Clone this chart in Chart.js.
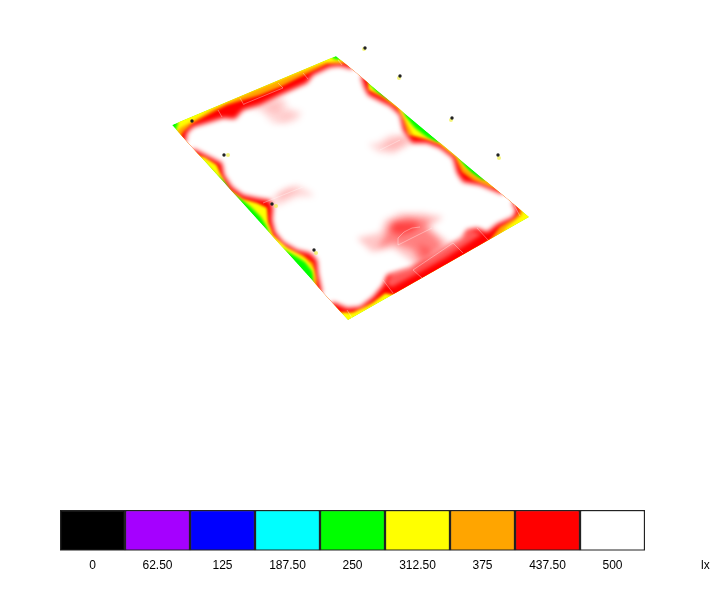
<!DOCTYPE html>
<html>
<head>
<meta charset="utf-8">
<title>Illuminance false colour plot</title>
<script src="https://cdn.jsdelivr.net/npm/chart.js@4"></script>
<style>
    html, body { margin: 0; padding: 0; background: #fff; }
    #page { position: relative; width: 725px; height: 602px; overflow: hidden; }
    canvas { position: absolute; }
    #unit { position: absolute; left: 701px; top: 558px; font: 12px "Liberation Sans", Arial, sans-serif; color: #000; }
</style>
</head>
<body>
<div id="page">
    <canvas id="plate" width="725" height="602" style="left:0;top:0"></canvas>
    <canvas id="scale" width="587" height="64" style="left:59px;top:509px"></canvas>
    <span id="unit">lx</span>
</div>
<script>
// colour scale
var scaleLabels = ["0", "62.50", "125", "187.50", "250", "312.50", "375", "437.50", "500"];
var scaleColors = ["#000000", "#a500ff", "#0000ff", "#00ffff", "#00ff00", "#ffff00", "#ffa500", "#ff0000", "#ffffff"];
var scaleValues = [1, 1, 1, 1, 1, 1, 1, 1, 1];

// isolux contours, lowest level first
// where a contour runs along the field edge it is taken past it, the field outline clips them
var fieldOutline = [[172,125],[336,56],[529,217],[348,320]];
var contour312 = [[176,129],[178,124],[176,116],[331,50],[332,58],[337,60],[348,58],[372,87],[380,96],[388,102],[398,100],[405,116],[415,128],[428,138],[437,143],[448,140],[460,161],[470,173],[482,182],[496,180],[540,217],[348,332],[315,283],[312,271],[305,262],[297,257],[290,253],[285,250],[272,245],[269,233],[267,227],[261,217],[251,207],[240,198],[233,193],[227,183],[216,175],[205,163],[190,158],[180,145]];
var contour375 = [[174,136],[180,128],[193,121],[213,109],[230,101],[253,91],[273,83],[300,72],[323,63],[337,61],[348,60],[366,81],[370,90],[383,96],[400,108],[407,123],[413,135],[428,139],[440,144],[457,157],[465,168],[477,177],[483,180],[496,180],[524,205],[522,215],[507,227],[503,232],[490,246],[442,273],[402,296],[385,293],[367,307],[350,313],[345,312],[335,314],[312,290],[315,270],[305,258],[290,249],[278,238],[271,222],[267,205],[245,197],[232,188],[222,172],[215,163],[204,157],[190,155]];
var contour437 = [[178,142],[183,132],[193,123],[215,111],[227,105],[243,100],[260,95],[280,87],[300,77],[327,64],[340,64],[352,62],[368,76],[368,90],[383,98],[397,108],[403,120],[408,135],[427,140],[440,145],[455,157],[462,172],[473,180],[490,187],[506,190],[518,200],[520,212],[515,218],[500,227],[490,240],[478,250],[465,260],[440,275],[420,287],[402,296],[385,293],[373,302],[353,312],[343,312],[330,312],[316,296],[317,278],[313,263],[303,255],[287,247],[273,235],[268,222],[267,208],[257,203],[243,199],[230,190],[220,173],[217,165],[205,157],[188,153]];
var contour500 = [[186,141],[187,133],[193,127],[210,122],[223,118],[235,119],[243,110],[260,105],[280,95],[307,83],[313,75],[330,67],[340,66],[352,69],[355,64],[365,73],[361,77],[364,87],[368,95],[378,100],[390,106],[400,115],[403,130],[412,143],[427,143],[440,148],[453,158],[457,173],[463,182],[480,185],[502,194],[506,190],[516,199],[512,203],[516,210],[513,217],[497,224],[487,232],[477,228],[467,230],[462,238],[450,245],[430,258],[410,268],[387,275],[383,285],[373,297],[360,307],[347,308],[333,302],[328,307],[318,296],[322,292],[318,273],[317,260],[310,253],[297,250],[283,242],[275,232],[272,220],[273,208],[270,200],[257,198],[243,195],[232,187],[224,175],[222,163],[210,157],[194,149],[189,152],[182,145]];

// paler inner side of the lower band
var bandLowFade = [[482,234],[470,230],[458,238],[440,250],[418,264],[392,273],[386,284],[392,287],[420,272],[445,258],[470,242]];

// patches above 437 lx inside the white area
var patchTopOuter = [[250,108],[262,112],[272,123],[285,124],[298,120],[302,112],[288,108],[284,97],[268,100]];
var patchTopInner = [[262,108],[275,115],[282,112],[280,100],[270,102]];
var patchTopLower = [[275,122],[290,120],[296,113],[285,112]];
var patchRightOuter = [[368,144],[378,152],[393,154],[412,143],[407,135],[390,135],[377,143]];
var patchRightInner = [[380,148],[395,150],[410,142],[403,136],[390,140]];
var patchLeftOuter = [[270,198],[275,207],[297,197],[315,196],[307,190],[297,185],[287,188],[272,197]];
var patchLeftInner = [[280,200],[295,192],[300,190],[290,188],[278,193]];
var patchLowOuter = [[443,217],[423,213],[400,213],[385,220],[380,233],[357,238],[372,252],[393,248],[410,260],[417,270],[453,243],[448,242],[437,233],[430,227]];
var patchLowMiddle = [[430,220],[407,217],[390,223],[385,237],[377,248],[393,243],[413,250],[420,263],[443,247],[437,238],[425,228]];
var patchLowCore = [[395,222],[415,222],[420,225],[412,232],[398,235],[390,230]];
var patchLowCore2 = [[418,243],[432,250],[425,260]];

// pitch markings
var pitchLines = [
    [[218,110],[222,117]], [[240,98],[244,105]], [[278,83],[283,88]], [[303,73],[308,79]], [[338,60],[342,65]],
    [[244,104],[283,88]],
    [[477,228],[488,240]], [[453,243],[463,253]], [[413,270],[422,278]], [[383,280],[393,293]], [[347,310],[352,318]], [[514,205],[520,216]],
    [[413,270],[453,243]], [[398,245],[432,228]],
    [[398,245],[398,238],[404,232],[412,228],[420,227]],
    [[263,203],[303,187]], [[400,140],[380,150]]
];

// luminaires
var markerX = [365, 400, 452, 498, 192, 224, 272, 314];
var markerY = [48, 76, 118, 155, 121, 155, 204, 250];
var ghostX = [364, 399, 451, 499, 228, 276, 316];
var ghostY = [49, 78, 120, 158, 155, 206, 253];

function toPoints(list) {
    return list.map(function (p) { return { x: p[0], y: p[1] }; });
}

function shape(list, color, blur) {
    return {
        data: toPoints(list.concat([list[0]])),
        showLine: true,
        fill: 'shape',
        backgroundColor: color,
        borderWidth: 0,
        pointRadius: 0,
        blurPx: blur
    };
}

var layers = [
    shape(fieldOutline, '#00ff00', 0),
    shape(contour312, '#ffff00', 1.5),
    shape(contour375, '#ffa500', 1.5),
    shape(contour437, '#ff0000', 1.5),
    shape(contour500, '#ffffff', 2.5),
    shape(bandLowFade, 'rgba(255,255,255,0.35)', 2),
    shape(patchTopOuter, 'rgba(255,0,0,0.13)', 3),
    shape(patchTopInner, 'rgba(255,0,0,0.12)', 3),
    shape(patchTopLower, 'rgba(255,0,0,0.1)', 3),
    shape(patchRightOuter, 'rgba(255,0,0,0.15)', 3),
    shape(patchRightInner, 'rgba(255,0,0,0.15)', 3),
    shape(patchLeftOuter, 'rgba(255,0,0,0.15)', 3),
    shape(patchLeftInner, 'rgba(255,0,0,0.15)', 3),
    shape(patchLowOuter, 'rgba(255,0,0,0.22)', 3),
    shape(patchLowMiddle, 'rgba(255,0,0,0.35)', 3),
    shape(patchLowCore, 'rgba(255,0,0,0.5)', 3),
    shape(patchLowCore2, 'rgba(255,0,0,0.3)', 3)
];

pitchLines.forEach(function (line) {
    layers.push({
        data: toPoints(line),
        showLine: true,
        blurPx: 0,
        borderColor: 'rgba(255,255,255,0.45)',
        borderWidth: 0.8,
        pointRadius: 0
    });
});

layers.push({
    data: ghostX.map(function (x, i) { return { x: x, y: ghostY[i] }; }),
    showLine: false,
    blurPx: 0.5,
    outsideField: true,
    pointRadius: 2,
    pointBorderWidth: 0,
    pointBackgroundColor: 'rgba(240,240,80,0.75)'
});
layers.push({
    data: markerX.map(function (x, i) { return { x: x, y: markerY[i] }; }),
    showLine: false,
    blurPx: 0.5,
    outsideField: true,
    pointRadius: 1.7,
    pointBorderWidth: 0,
    pointBackgroundColor: '#222222'
});

// first dataset is drawn last by Chart.js, so order them by hand
layers.forEach(function (ds, i) { ds.order = layers.length - i; });

function setBlur(ctx, ds) {
    ctx.filter = ds && ds.blurPx ? 'blur(' + ds.blurPx + 'px)' : 'none';
}

// the filler plugin fills before our beforeDatasetDraw runs, so the filter for a
// layer is set when the previous layer is done. Contours are clipped to the field.
var softEdges = {
    id: 'softEdges',
    beforeDatasetsDraw: function (chart) {
        var ctx = chart.ctx;
        ctx.save();
        ctx.beginPath();
        fieldOutline.forEach(function (p) {
            ctx.lineTo(chart.scales.x.getPixelForValue(p[0]), chart.scales.y.getPixelForValue(p[1]));
        });
        ctx.closePath();
        ctx.clip();
        this.clipped = true;
        setBlur(ctx, chart.data.datasets[0]);
    },
    afterDatasetDraw: function (chart, args) {
        var next = chart.data.datasets[args.index + 1];
        if (next && next.outsideField && this.clipped) {
            chart.ctx.restore();
            this.clipped = false;
        }
        setBlur(chart.ctx, next);
    }
};

new Chart(document.getElementById('plate'), {
    type: 'scatter',
    data: { datasets: layers },
    plugins: [softEdges],
    options: {
        responsive: false,
        animation: false,
        layout: { padding: 0, autoPadding: false },
        plugins: { legend: { display: false }, tooltip: { enabled: false } },
        scales: {
            x: { type: 'linear', min: 0, max: 725, display: false },
            y: { type: 'linear', min: 0, max: 602, reverse: true, display: false }
        }
    }
});

new Chart(document.getElementById('scale'), {
    type: 'bar',
    data: {
        labels: scaleLabels,
        datasets: [{
            data: scaleValues,
            backgroundColor: scaleColors,
            borderColor: '#222222',
            borderWidth: 1.5,
            borderSkipped: false,
            categoryPercentage: 1,
            barPercentage: 1
        }]
    },
    options: {
        responsive: false,
        animation: false,
        layout: { padding: { left: 1, right: 1, top: 1, bottom: 0 } },
        plugins: { legend: { display: false }, tooltip: { enabled: false } },
        scales: {
            x: {
                grid: { display: false },
                border: { display: false },
                ticks: {
                    autoSkip: false,
                    maxRotation: 0,
                    padding: 0,
                    color: '#000',
                    font: { family: '"Liberation Sans", Arial, sans-serif', size: 12 }
                }
            },
            y: { display: false, min: 0, max: 1 }
        }
    }
});
</script>
</body>
</html>
